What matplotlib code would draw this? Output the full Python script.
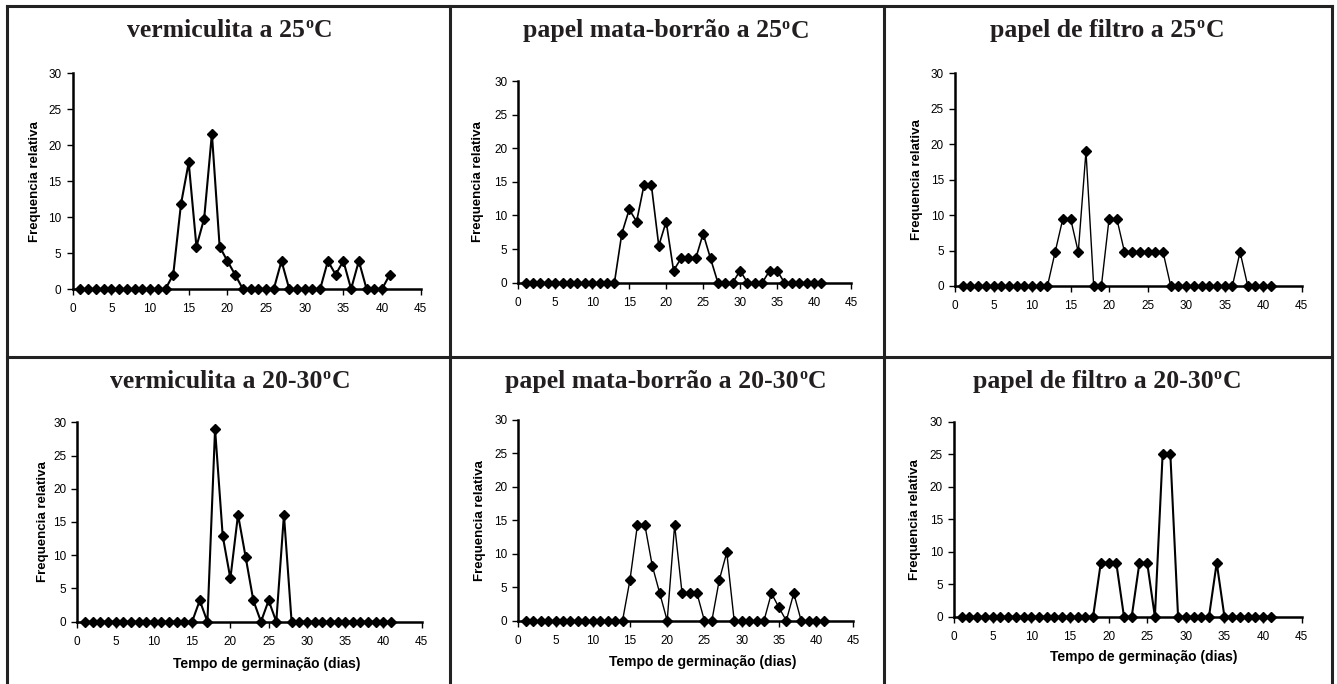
import numpy as np
import matplotlib
matplotlib.use("Agg")
import matplotlib.pyplot as plt
from matplotlib.lines import Line2D

plt.rcParams["font.family"] = ["Liberation Sans", "DejaVu Sans"]

# --------------------------------------------------------------------------
# Data: relative germination frequency per day (days 1..41)
# --------------------------------------------------------------------------
days = list(range(1, 42))

verm_25 = [0] * 12 + [2.0, 11.8, 17.6, 5.9, 9.8, 21.6, 5.9, 3.9, 2.0, 0,
                      0, 0, 0, 0, 3.9, 0, 0, 0, 0, 0,
                      3.9, 2.0, 3.9, 0, 3.9, 0, 0, 0, 2.0]
mata_25 = [0] * 13 + [7.3, 10.9, 9.1, 14.5, 14.5, 5.5, 9.1, 1.8, 3.6, 3.6,
                      3.6, 7.3, 3.6, 0, 0, 0, 1.8, 0, 0, 0,
                      1.8, 1.8, 0, 0, 0, 0, 0, 0]
filtro_25 = [0] * 12 + [4.8, 9.5, 9.5, 4.8, 19.0, 0, 0, 9.5, 9.5, 4.8,
                        4.8, 4.8, 4.8, 4.8, 4.8, 0, 0, 0, 0, 0,
                        0, 0, 0, 0, 4.8, 0, 0, 0, 0]
verm_2030 = [0] * 15 + [3.2, 0, 29.0, 12.9, 6.5, 16.1, 9.7, 3.2, 0, 3.2,
                        0, 16.1] + [0] * 14
mata_2030 = [0] * 14 + [6.1, 14.3, 14.3, 8.2, 4.1, 0, 14.3, 4.1, 4.1, 4.1,
                        0, 0, 6.1, 10.2, 0, 0, 0, 0, 0, 4.1,
                        2.0, 0, 4.1, 0, 0, 0, 0]
filtro_2030 = [0] * 18 + [8.3, 8.3, 8.3, 0, 0, 8.3, 8.3, 0, 25.0, 25.0,
                          0, 0, 0, 0, 0, 8.3] + [0] * 7

# title = prefix + superscript "o" + "C"
title_prefix = [
    "vermiculita a 25",
    "papel mata-borrão a 25",
    "papel de filtro a 25",
    "vermiculita a 20-30",
    "papel mata-borrão a 20-30",
    "papel de filtro a 20-30",
]
series = [verm_25, mata_25, filtro_25, verm_2030, mata_2030, filtro_2030]

# --------------------------------------------------------------------------
# Layout (pixel geometry of the reference)
# --------------------------------------------------------------------------
W, H = 1337, 684
fig = plt.figure(figsize=(W / 100, H / 100), dpi=100)
renderer = fig.canvas.get_renderer()

# plot area boxes: x(0), x(45), y(30), y(0) in pixels
boxes = [
    (72.7, 420.7, 73.3, 289.0),
    (518.3, 851.0, 81.0, 282.7),
    (955.0, 1301.7, 73.3, 286.0),
    (77.3, 421.7, 422.3, 621.7),
    (518.3, 853.3, 420.0, 620.7),
    (954.0, 1301.7, 421.7, 616.7),
]
# title centre x and baseline y
title_pos = [(230, 36.7), (666, 37.5), (1107, 36.7),
             (230, 387.5), (666, 388), (1107, 388)]
ylabel_x = [35, 478, 917, 43, 480, 915]
xlabel_pos = {3: (267, 664), 4: (703, 662), 5: (1144, 657)}
line_w = [1.5, 1.2, 1.0, 1.5, 1.0, 1.5]

title_kw = dict(family="Liberation Serif", weight="bold", color="#231f20",
                va="baseline", ha="left")


def draw_title(cx, by, prefix):
    """Prefix, small raised 'o', then 'C', centred at cx (pixel coords)."""
    t1 = fig.text(0, 1 - by / H, prefix, fontsize=18.5, **title_kw)
    t2 = fig.text(0, 1 - (by - 8.7) / H, "o", fontsize=11.5, **title_kw)
    t3 = fig.text(0, 1 - by / H, "C", fontsize=18.5, **title_kw)
    widths = [t.get_window_extent(renderer).width for t in (t1, t2, t3)]
    widths[1] += 1.0  # a little air before the C
    x = cx - sum(widths) / 2
    for t, w in zip((t1, t2, t3), widths):
        t.set_x(x / W)
        x += w


for i, (vals, (x0, x1, yt, yb)) in enumerate(zip(series, boxes)):
    ax = fig.add_axes([x0 / W, 1 - yb / H, (x1 - x0) / W, (yb - yt) / H])
    ax.plot(days, vals, color="black", lw=line_w[i], marker="D",
            markersize=5.2, clip_on=False, zorder=3)
    ax.set_xlim(0, 45)
    ax.set_ylim(0, 30)
    ax.set_xticks(range(0, 46, 5))
    ax.set_yticks(range(0, 31, 5))
    for s in ("top", "right"):
        ax.spines[s].set_visible(False)
    for s in ("left", "bottom"):
        ax.spines[s].set_linewidth(1.8)
    ax.tick_params(direction="out", length=4, width=1, labelsize=8.5)
    ax.tick_params(axis="x", pad=6)
    ax.tick_params(axis="y", pad=4)
    ax.patch.set_alpha(0)

    draw_title(title_pos[i][0], title_pos[i][1], title_prefix[i])
    fig.text(ylabel_x[i] / W, 1 - (yt + yb) / 2 / H, "Frequencia relativa",
             weight="bold", fontsize=9.5, rotation=90, ha="center", va="center")
    if i in xlabel_pos:
        fig.text(xlabel_pos[i][0] / W, 1 - xlabel_pos[i][1] / H,
                 "Tempo de germinação (dias)", weight="bold", fontsize=10,
                 ha="center", va="center")

# --------------------------------------------------------------------------
# Table grid lines around the cells
# --------------------------------------------------------------------------
grid_kw = dict(color="#222222", lw=2.2, transform=fig.transFigure)
for x in (7, 450, 884, 1332):
    fig.add_artist(Line2D([x / W, x / W], [1 - 6 / H, 0], **grid_kw))
for y in (6, 357):
    fig.add_artist(Line2D([7 / W, 1332 / W], [1 - y / H, 1 - y / H], **grid_kw))

fig.savefig("out.png", dpi=100)
